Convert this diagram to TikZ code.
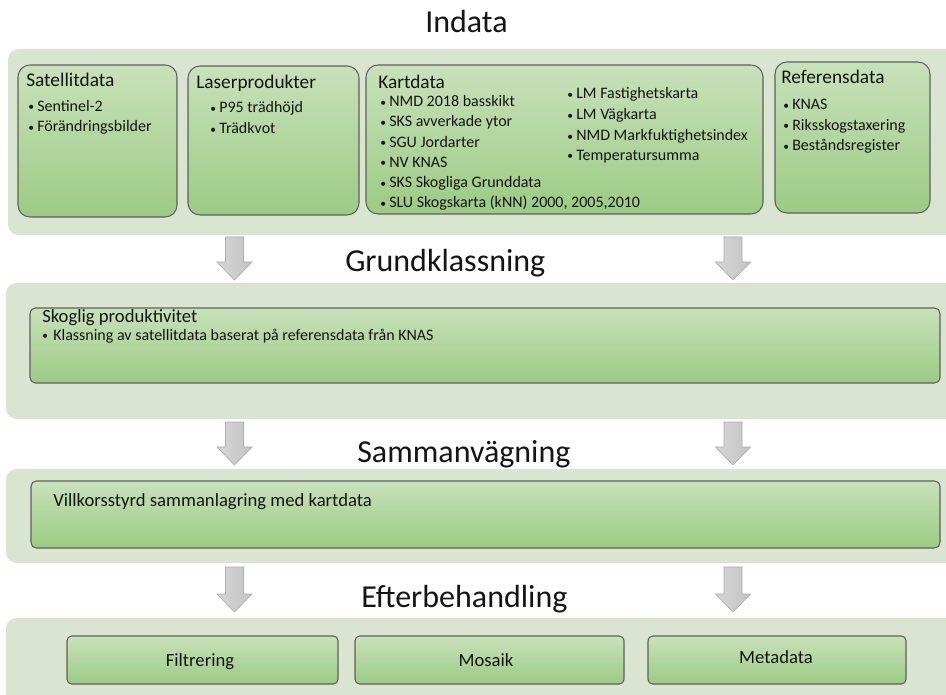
\documentclass[tikz,border=0pt]{standalone}
\usepackage{fontspec}
\setmainfont{Carlito}
\usetikzlibrary{fit}
\definecolor{panelbg}{RGB}{217,228,209}
\definecolor{boxtop}{RGB}{200,225,186}
\definecolor{boxbot}{RGB}{156,203,132}
\definecolor{boxline}{RGB}{95,95,95}
\definecolor{arrfill}{RGB}{196,196,196}
\definecolor{arrline}{RGB}{172,172,172}
\definecolor{txt}{RGB}{20,20,20}
\newcommand{\itembul}{\makebox[6.75pt][l]{\raisebox{0.12ex}{\scalebox{0.72}{\textbullet}}}}
\newcommand{\itembulw}{\makebox[8.25pt][l]{\raisebox{0.12ex}{\scalebox{0.72}{\textbullet}}}}
\begin{document}
\begin{tikzpicture}[x=0.75pt,y=-0.75pt,
  panel/.style={fill=panelbg, draw=none, rounded corners=8pt, inner sep=0pt},
  bigbox/.style={top color=boxtop, bottom color=boxbot, draw=boxline, line width=0.8pt, rounded corners=9pt, inner sep=0pt},
  smallbox/.style={bigbox, rounded corners=3.5pt},
  heading/.style={anchor=base west, inner sep=0pt, font=\fontsize{24}{28}\selectfont, text=txt},
  title/.style={anchor=base west, inner sep=0pt, font=\fontsize{14.5}{17}\selectfont, text=txt},
  item/.style={anchor=base west, inner sep=0pt, font=\fontsize{12}{14}\selectfont, text=txt},
  label/.style={anchor=base, inner sep=0pt, font=\fontsize{14}{17}\selectfont, text=txt},
  pics/downarrow/.style={code={
    \draw[arrline, left color=arrfill!70!white, right color=arrfill, line width=0.5pt, line join=miter]
      (-9,0) -- (9,0) -- (9,#1-18) -- (17.5,#1-18) -- (0,#1) -- (-17.5,#1-18) -- (-9,#1-18) -- cycle;}}
]
\useasboundingbox (0,0) rectangle (946,695);
\clip (0,0) rectangle (946,695);
\fill[white] (0,0) rectangle (946,695);

% panels
\node[panel, fit={(8,49) (990,235)}] (p1) {};
\node[panel, fit={(6,283) (990,419)}] (p2) {};
\node[panel, fit={(6,469) (990,563)}] (p3) {};
\node[panel, fit={(6,618) (990,730)}] (p4) {};

% headings
\node[heading] (hIndata) at (425,33) {Indata};
\node[heading] (hGrund) at (345,272) {Grundklassning};
\node[heading] (hSamman) at (357,462) {Sammanvägning};
\node[heading] (hEfter) at (361,607) {Efterbehandling};

% arrows
\pic at (234.5,237) {downarrow=43};
\pic at (733,237) {downarrow=43};
\pic at (234.5,422) {downarrow=43};
\pic at (733,422) {downarrow=43};
\pic at (234.5,567) {downarrow=45};
\pic at (733,567) {downarrow=45};

% top boxes
\node[bigbox, fit={(18,65) (177,217)}] (sat) {};
\node[bigbox, fit={(188,66) (359,215)}] (laser) {};
\node[bigbox, fit={(366,65) (763,214)}] (kart) {};
\node[bigbox, fit={(775,62) (930,213)}] (ref) {};

\node[title] (satT) at (26,86.5) {Satellitdata};
\node[item] (sat1) at (28,111.5) {\itembul Sentinel-2};
\node[item] (sat2) at (28,132) {\itembul Förändringsbilder};

\node[title] (laserT) at (196,88.5) {Laserprodukter};
\node[item] (laser1) at (210,113) {\itembul P95 trädhöjd};
\node[item] (laser2) at (210,134) {\itembul Trädkvot};

\node[title] (kartT) at (378,88.5) {Kartdata};
\node[item] (k1) at (380,107) {\itembul NMD 2018 basskikt};
\node[item] (k2) at (380,127) {\itembul SKS avverkade ytor};
\node[item] (k3) at (380,147.5) {\itembul SGU Jordarter};
\node[item] (k4) at (380,167.5) {\itembul NV KNAS};
\node[item] (k5) at (380,188) {\itembul SKS Skogliga Grunddata};
\node[item] (k6) at (380,208) {\itembul SLU Skogskarta (kNN) 2000, 2005,2010};
\node[item] (k7) at (567,99) {\itembul LM Fastighetskarta};
\node[item] (k8) at (567,120) {\itembul LM Vägkarta};
\node[item] (k9) at (567,141) {\itembul NMD Markfuktighetsindex};
\node[item] (k10) at (567,160.5) {\itembul Temperatursumma};

\node[title] (refT) at (781,84) {Referensdata};
\node[item] (r1) at (783,110) {\itembul KNAS};
\node[item] (r2) at (783,130.5) {\itembul Riksskogstaxering};
\node[item] (r3) at (783,151) {\itembul Beståndsregister};

% grundklassning
\node[bigbox, rounded corners=4pt, fit={(30,308) (940,383)}] (skog) {};
\node[anchor=base west, inner sep=0pt, font=\fontsize{14}{17}\selectfont, text=txt] (skogT) at (42,322.5) {Skoglig produktivitet};
\node[item] (skog1) at (42,340.5) {\itembulw Klassning av satellitdata baserat på referensdata från KNAS};

% sammanvägning
\node[bigbox, rounded corners=4pt, fit={(31,481) (940,548)}] (vill) {};
\node[anchor=base west, inner sep=0pt, font=\fontsize{14}{17}\selectfont, text=txt] (villT) at (53,506) {Villkorsstyrd sammanlagring med kartdata};

% efterbehandling
\node[smallbox, fit={(67,636) (338,684)}] (filt) {};
\node[smallbox, fit={(355,636) (624,684)}] (mos) {};
\node[smallbox, fit={(648,636) (906,684)}] (meta) {};
\node[label] (filtT) at (200,666) {Filtrering};
\node[label] (mosT) at (486,666) {Mosaik};
\node[label] (metaT) at (776,663) {Metadata};
\end{tikzpicture}
\end{document}
